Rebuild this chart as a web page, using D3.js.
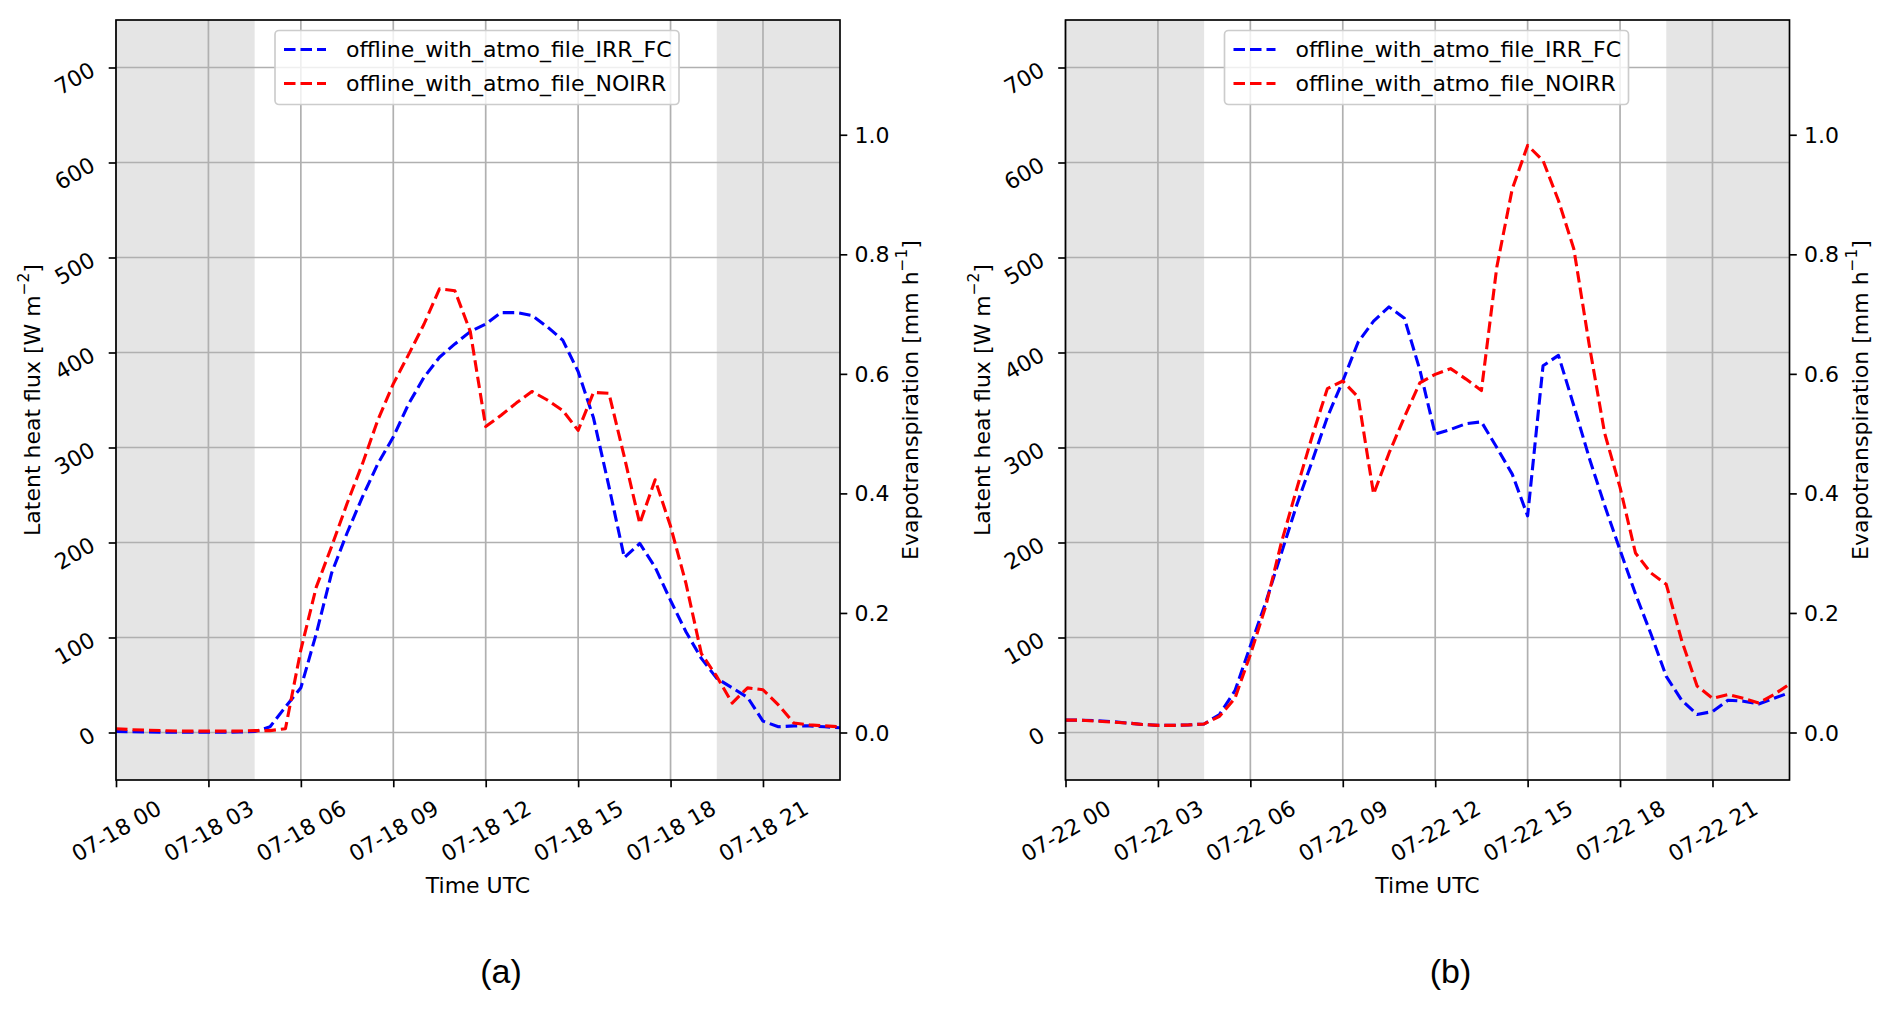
<!DOCTYPE html>
<html>
<head>
<meta charset="utf-8">
<script src="https://cdn.jsdelivr.net/npm/d3@7"></script>
<style>
  body { margin: 0; background: #fff; }
  text { font-family: "DejaVu Sans", sans-serif; }
</style>
</head>
<body>
<svg id="chart" width="1892" height="1010"></svg>
<script>
// half-hourly time steps (hours UTC)
const hours = [0, 0.5, 1, 1.5, 2, 2.5, 3, 3.5, 4, 4.5, 5, 5.5, 6, 6.5, 7, 7.5, 8, 8.5, 9, 9.5,
  10, 10.5, 11, 11.5, 12, 12.5, 13, 13.5, 14, 14.5, 15, 15.5, 16, 16.5, 17, 17.5, 18, 18.5, 19, 19.5,
  20, 20.5, 21, 21.5, 22, 22.5, 23, 23.5];

// latent heat flux [W m-2], panel (a) 07-18
const irrA = [1, 0.8, 0.5, 0.4, 0.3, 0.3, 0.2, 0.3, 0.5, 1, 6, 27, 47, 104, 168, 210, 248, 283, 311, 346,
  374, 395, 409, 422, 430, 442, 442, 439, 427, 413, 380, 331, 259, 184, 199, 174, 139, 106, 78, 57,
  47, 37, 12, 6, 7, 7, 6, 5];
const noirrA = [4, 3, 2.5, 2, 1.5, 1.5, 1.5, 1.5, 1.5, 2, 2, 4, 87, 153, 196, 241, 283, 329, 367, 398,
  430, 467, 465, 422, 322, 334, 347, 359, 350, 339, 318, 358, 357, 290, 220, 266, 217, 157, 83, 59,
  31, 47, 45, 29, 10, 8, 7, 6];

// latent heat flux [W m-2], panel (b) 07-22
const irrB = [13, 13, 12.5, 11.5, 10, 8.5, 7.5, 7.5, 8, 9, 19, 44, 91, 137, 188, 239, 285, 332, 370, 411,
  433, 448, 436, 382, 314, 319, 325, 327, 300, 272, 228, 386, 397, 344, 289, 239, 192, 146, 104, 59,
  34, 19, 22, 34, 33, 30, 36, 42];
const noirrB = [13, 13, 12, 11, 10, 8.5, 7.5, 7.5, 8, 9, 17, 36, 82, 133, 199, 256, 311, 362, 370, 353,
  251, 294, 332, 368, 377, 383, 372, 360, 490, 572, 618, 602, 560, 509, 408, 315, 258, 189, 168, 156,
  97, 49, 36, 40, 36, 31, 40, 51];

const nightSpans = [[0, 4.5], [19.5, 23.5]];
const xTicks = [0, 3, 6, 9, 12, 15, 18, 21];
const xLabelsA = ["07-18 00", "07-18 03", "07-18 06", "07-18 09", "07-18 12", "07-18 15", "07-18 18", "07-18 21"];
const xLabelsB = ["07-22 00", "07-22 03", "07-22 06", "07-22 09", "07-22 12", "07-22 15", "07-22 18", "07-22 21"];
const leTicks = [0, 100, 200, 300, 400, 500, 600, 700];
const etTicks = [0, 0.2, 0.4, 0.6, 0.8, 1.0];
const seriesNames = ["offline_with_atmo_file_IRR_FC", "offline_with_atmo_file_NOIRR"];
const seriesColors = ["#0000ff", "#ff0000"];

const svg = d3.select("#chart");
svg.append("rect").attr("width", 1892).attr("height", 1010).attr("fill", "#fff");

const FS = 22;
const LE_PER_MM = 629.2; // W m-2 per mm h-1 on the twin axis

function drawPanel(left, xLabels, irr, noirr, caption, id) {
  const top = 20, bottom = 780, right = left + 724;
  const x = d3.scaleLinear().domain([0, 23.5]).range([left, right]);
  const y = d3.scaleLinear().domain([-50, 750]).range([bottom, top]);
  const y2 = d3.scaleLinear().domain([-50 / LE_PER_MM, 750 / LE_PER_MM]).range([bottom, top]);

  const g = svg.append("g");

  g.append("clipPath").attr("id", "clip" + id)
    .append("rect").attr("x", left).attr("y", top)
    .attr("width", right - left).attr("height", bottom - top);

  // night shading
  g.selectAll(".night").data(nightSpans).enter().append("rect")
    .attr("x", d => x(d[0]))
    .attr("width", d => x(d[1]) - x(d[0]))
    .attr("y", top).attr("height", bottom - top)
    .attr("fill", "#e5e5e5");

  // grid
  g.selectAll(".vgrid").data(xTicks).enter().append("line")
    .attr("x1", d => x(d)).attr("x2", d => x(d))
    .attr("y1", top).attr("y2", bottom)
    .attr("stroke", "#b0b0b0").attr("stroke-width", 1.7);
  g.selectAll(".hgrid").data(leTicks).enter().append("line")
    .attr("x1", left).attr("x2", right)
    .attr("y1", d => y(d)).attr("y2", d => y(d))
    .attr("stroke", "#b0b0b0").attr("stroke-width", 1.7);

  // lines
  const line = d3.line().x((d, i) => x(hours[i])).y(d => y(d));
  [irr, noirr].forEach((s, k) => {
    g.append("path").datum(s)
      .attr("d", line)
      .attr("clip-path", `url(#clip${id})`)
      .attr("fill", "none")
      .attr("stroke", seriesColors[k])
      .attr("stroke-width", 3.1)
      .attr("stroke-dasharray", "11.5 5")
      .attr("stroke-linejoin", "round");
  });

  // bottom axis
  const xa = g.append("g").attr("transform", `translate(0,${bottom})`)
    .call(d3.axisBottom(x).tickValues(xTicks).tickSize(7.3).tickSizeOuter(0)
      .tickFormat((d, i) => xLabels[i]));
  xa.select(".domain").remove();
  xa.selectAll(".tick line").attr("stroke", "#000").attr("stroke-width", 1.67);
  xa.selectAll(".tick text")
    .attr("y", null).attr("dy", null)
    .attr("text-anchor", "middle")
    .attr("dominant-baseline", "central")
    .attr("transform", "translate(0,51) rotate(-30)")
    .style("font-size", FS + "px")
    .style("font-family", "DejaVu Sans")
    .attr("fill", "#000");

  // left axis
  const ya = g.append("g").attr("transform", `translate(${left},0)`)
    .call(d3.axisLeft(y).tickValues(leTicks).tickSize(7.3).tickSizeOuter(0));
  ya.select(".domain").remove();
  ya.selectAll(".tick line").attr("stroke", "#000").attr("stroke-width", 1.67);
  ya.selectAll(".tick text")
    .attr("x", -23).attr("dy", null)
    .attr("text-anchor", "end")
    .attr("dominant-baseline", "central")
    .attr("transform", "rotate(-30,-23,0)")
    .style("font-size", FS + "px")
    .style("font-family", "DejaVu Sans")
    .attr("fill", "#000");

  // right (twin) axis
  const ra = g.append("g").attr("transform", `translate(${right},0)`)
    .call(d3.axisRight(y2).tickValues(etTicks).tickSize(7.3).tickSizeOuter(0)
      .tickFormat(d3.format(".1f")));
  ra.select(".domain").remove();
  ra.selectAll(".tick line").attr("stroke", "#000").attr("stroke-width", 1.67);
  ra.selectAll(".tick text")
    .attr("x", 14.6).attr("dy", null)
    .attr("dominant-baseline", "central")
    .style("font-size", FS + "px")
    .style("font-family", "DejaVu Sans")
    .attr("fill", "#000");

  // spines
  g.append("rect").attr("x", left).attr("y", top)
    .attr("width", right - left).attr("height", bottom - top)
    .attr("fill", "none").attr("stroke", "#000").attr("stroke-width", 1.67);

  // axis labels
  const lx = left - 84, cy = (top + bottom) / 2;
  const ll = g.append("text")
    .attr("x", lx).attr("y", cy)
    .attr("text-anchor", "middle").attr("dominant-baseline", "central")
    .attr("transform", `rotate(-90,${lx},${cy})`)
    .style("font-size", FS + "px");
  ll.append("tspan").text("Latent heat flux [W m");
  ll.append("tspan").attr("dy", -8).style("font-size", "15.4px").text("\u22122");
  ll.append("tspan").attr("dy", 8).text("]");

  const rx = right + 70;
  const rl = g.append("text")
    .attr("x", rx).attr("y", cy)
    .attr("text-anchor", "middle").attr("dominant-baseline", "central")
    .attr("transform", `rotate(-90,${rx},${cy})`)
    .style("font-size", FS + "px");
  rl.append("tspan").text("Evapotranspiration [mm h");
  rl.append("tspan").attr("dy", -8).style("font-size", "15.4px").text("\u22121");
  rl.append("tspan").attr("dy", 8).text("]");

  g.append("text")
    .attr("x", (left + right) / 2).attr("y", 893)
    .attr("text-anchor", "middle")
    .style("font-size", FS + "px")
    .text("Time UTC");

  // legend
  const lgx = left + 159, lgy = 30.5;
  g.append("rect").attr("x", lgx).attr("y", lgy)
    .attr("width", 404).attr("height", 74).attr("rx", 4)
    .attr("fill", "#fff").attr("fill-opacity", 0.8)
    .attr("stroke", "#cccccc").attr("stroke-width", 1.67);
  seriesNames.forEach((name, k) => {
    const ry = lgy + 19 + k * 34;
    g.append("line")
      .attr("x1", lgx + 9).attr("x2", lgx + 51)
      .attr("y1", ry).attr("y2", ry)
      .attr("stroke", seriesColors[k]).attr("stroke-width", 3.1)
      .attr("stroke-dasharray", "11.5 5");
    g.append("text")
      .attr("x", lgx + 71).attr("y", ry)
      .attr("dominant-baseline", "central")
      .style("font-size", FS + "px")
      .text(name);
  });

  // caption
  g.append("text")
    .attr("x", left + 385).attr("y", 983)
    .attr("text-anchor", "middle")
    .style("font-family", "Liberation Sans")
    .style("font-size", "34px")
    .text(caption);
}

drawPanel(116, xLabelsA, irrA, noirrA, "(a)", "a");
drawPanel(1065.5, xLabelsB, irrB, noirrB, "(b)", "b");
</script>
</body>
</html>
